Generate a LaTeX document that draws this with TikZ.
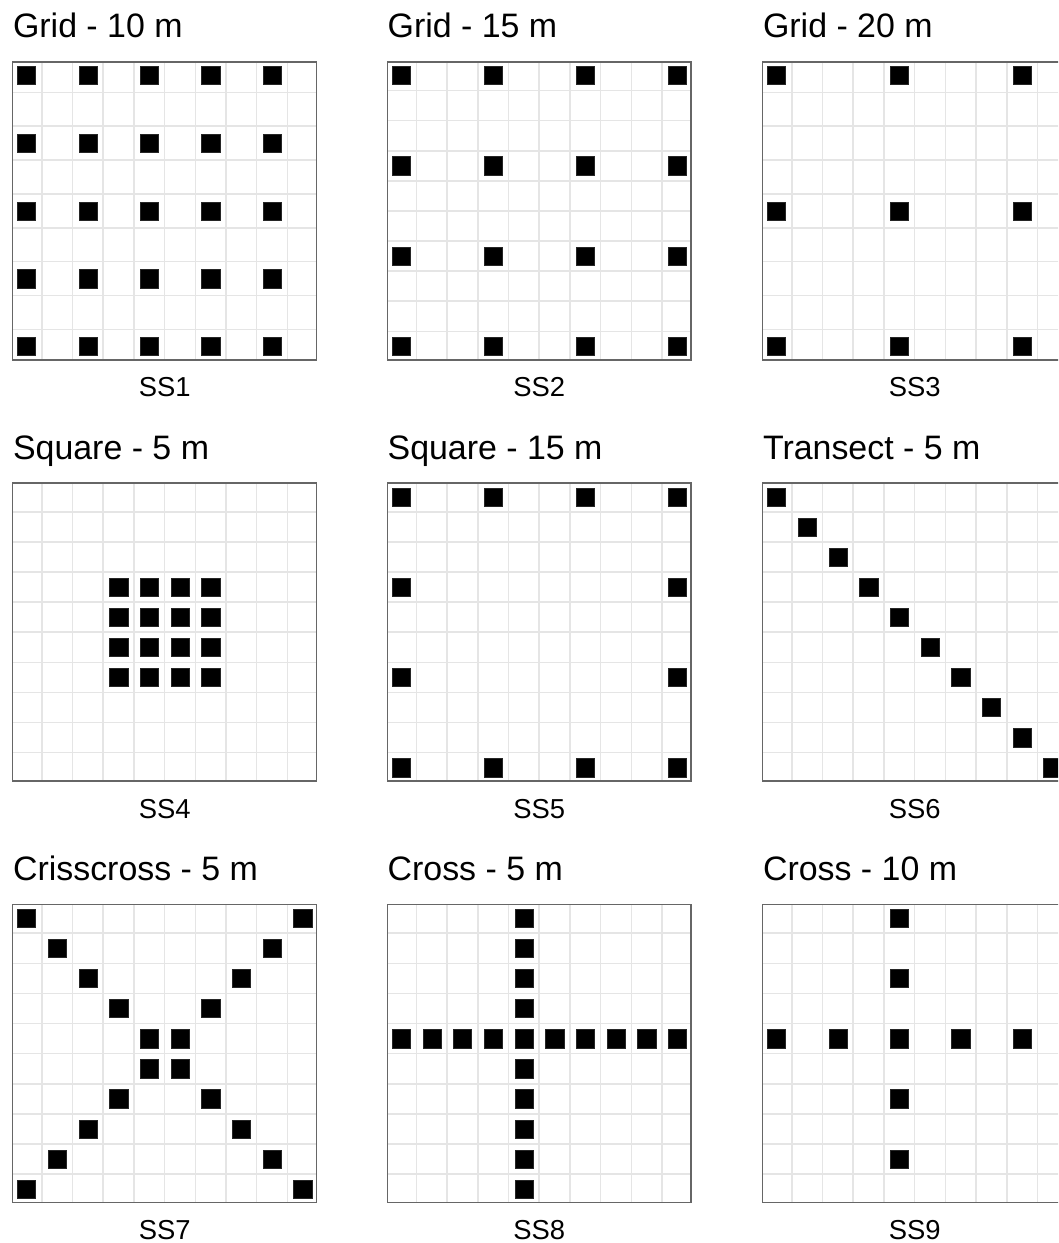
\documentclass[tikz,border=0pt]{standalone}
\usepackage{fontspec}
\setmainfont{Liberation Sans}

\tikzset{
  paneltitle/.style={anchor=base west, inner sep=0pt, font=\fontsize{19.3}{22}\selectfont},
  sslabel/.style={anchor=base, inner sep=0pt, font=\fontsize{15.6}{18}\selectfont},
  gridline/.style={draw=black!10, line width=0.9pt},
  border/.style={draw=black!60, line width=0.9pt},
  sampbox/.style={fill=black, draw=black!85, line width=0.2pt, minimum size=0.365cm, inner sep=0pt}
}

% #1 left, #2 top (px), #3 largest row index, #4 row height, #5 title, #6 label, #7 sample squares
\newcommand{\plotpanel}[7]{%
  \node[paneltitle] (t#6) at (#1,#2-24.3) {#5};
  \node[sslabel] (#6) at (#1+152,#2+334.7) {#6};
  \begin{scope}[shift={(#1+13.8,#2+13.5)}, x=0.614cm, y=-#4]
    \foreach \g in {0.5,1.5,...,8.5}
      \draw[gridline] (\g,{-0.05*#3}) -- (\g,{1.05*#3});
    \foreach \g in {1,...,#3}
      \draw[gridline] (-0.45,\g-0.5) -- (9.45,\g-0.5);
    #7
    \draw[border] (-0.45,{-0.05*#3}) rectangle (9.45,{1.05*#3});
  \end{scope}}

\begin{document}
\begin{tikzpicture}[x=0.02cm, y=-0.02cm]
    \useasboundingbox (0,0) rectangle (1058,1243);
    \clip (0,0) rectangle (1058,1243);

    % Row 1
    \plotpanel{12.7}{62}{8}{0.677cm}{Grid - 10 m}{SS1}{%
      \foreach \i in {0,2,...,8} \foreach \j in {0,2,...,8} \node[sampbox] at (\i,\j) {};}
    \plotpanel{387.3}{62}{9}{0.602cm}{Grid - 15 m}{SS2}{%
      \foreach \i in {0,3,6,9} \foreach \j in {0,3,6,9} \node[sampbox] at (\i,\j) {};}
    \plotpanel{762.7}{62}{8}{0.677cm}{Grid - 20 m}{SS3}{%
      \foreach \i in {0,4,8} \foreach \j in {0,4,8} \node[sampbox] at (\i,\j) {};}

    % Row 2
    \plotpanel{12.7}{483.3}{9}{0.602cm}{Square - 5 m}{SS4}{%
      \foreach \i in {3,...,6} \foreach \j in {3,...,6} \node[sampbox] at (\i,\j) {};}
    \plotpanel{387.3}{483.3}{9}{0.602cm}{Square - 15 m}{SS5}{%
      \foreach \i in {0,3,6,9} {
        \node[sampbox] at (\i,0) {}; \node[sampbox] at (\i,9) {};
        \node[sampbox] at (0,\i) {}; \node[sampbox] at (9,\i) {};}}
    \plotpanel{762.7}{483.3}{9}{0.602cm}{Transect - 5 m}{SS6}{%
      \foreach \i in {0,...,9} \node[sampbox] at (\i,\i) {};}

    % Row 3
    \plotpanel{12.7}{904.7}{9}{0.602cm}{Crisscross - 5 m}{SS7}{%
      \foreach \i in {0,...,9} {
        \node[sampbox] at (\i,\i) {}; \node[sampbox] at (\i,9-\i) {};}}
    \plotpanel{387.3}{904.7}{9}{0.602cm}{Cross - 5 m}{SS8}{%
      \foreach \i in {0,...,9} {
        \node[sampbox] at (4,\i) {}; \node[sampbox] at (\i,4) {};}}
    \plotpanel{762.7}{904.7}{9}{0.602cm}{Cross - 10 m}{SS9}{%
      \foreach \i in {0,2,...,8} {
        \node[sampbox] at (4,\i) {}; \node[sampbox] at (\i,4) {};}}
\end{tikzpicture}
\end{document}
